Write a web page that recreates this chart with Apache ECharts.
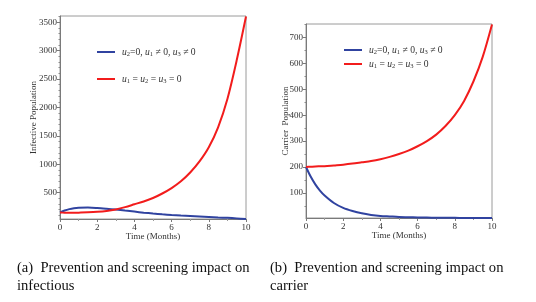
<!DOCTYPE html>
<html><head><meta charset="utf-8">
<script src="https://cdn.jsdelivr.net/npm/echarts@6/dist/echarts.min.js"></script>
<style>html,body{margin:0;padding:0;background:#fff}#c{width:536px;height:302px}</style>
</head><body><div id="c"></div>
<script>
// ---- data ----
const timeA = [0,0.25,0.5,0.75,1,1.5,2,2.5,3,3.5,4,4.5,5,5.5,6,6.5,7,7.5,8,8.5,9,9.5,10];
const infBlue = [150,185,210,226,234,238,230,217,202,184,166,148,132,118,106,96,88,80,72,64,56,47,36];
const infRed  = [150,147,145,146,148,153,162,178,205,245,295,345,405,485,580,700,855,1050,1300,1650,2150,2830,3600];
const timeB = [0,0.25,0.5,0.75,1,1.5,2,2.5,3,3.5,4,4.5,5,5.5,6,6.5,7,7.5,8,8.5,9,9.5,10];
const carBlue = [200,163,133,109,90,61,42,30,21,15,11,9,7,6,5,4.5,4,3.7,3.5,3.3,3.2,3.1,3];
const carRed  = [200,201,202,202.5,203,206,209,213,218,223,230,239,250,263,280,300,325,358,400,455,530,625,750];
const xTicks = [0,2,4,6,8,10];
const infTicks = [500,1000,1500,2000,2500,3000,3500];
const carTicks = [100,200,300,400,500,600,700];
const legendBlue = '{i|u}{s|2}{n|=0, }{i|u}{s|1}{n| \u2260 0, }{i|u}{s|3}{n| \u2260 0}';
const legendRed  = '{i|u}{s|1}{n| = }{i|u}{s|2}{n| = }{i|u}{s|3}{n| = 0}';
const nameBlue = 'blue', nameRed = 'red';

const pairs = (xs, ys) => xs.map((x, i) => [x, ys[i]]);
const minorOf = (step, lo, hi, majors) => { const r=[]; for (let v=step; v<=hi; v+=step) if (v>=lo && !majors.includes(v)) r.push(v); return r; };

const BLUE = '#3043a0', RED = '#f21c1c';
const serif = 'Liberation Serif';
const labelStyle = {fontFamily: serif, fontSize: 9, color: '#333', formatter: v => String(v)};
const rich = {
  i: {fontFamily: serif, fontStyle: 'italic', fontSize: 9.6, color: '#333', lineHeight: 12, verticalAlign: 'middle'},
  n: {fontFamily: serif, fontSize: 9.6, color: '#333', lineHeight: 12, verticalAlign: 'middle'},
  s: {fontFamily: serif, fontSize: 6.5, color: '#333', lineHeight: 12, verticalAlign: 'bottom'}
};

const grids = [
  {left: 60, right: 290, top: 16, bottom: 83, show: true, borderColor: '#9a9a9a', borderWidth: 1},
  {left: 306, right: 44, top: 24, bottom: 84, show: true, borderColor: '#9a9a9a', borderWidth: 1}
];
const axisLine = {show: true, lineStyle: {color: '#7a7a7a', width: 1}};
function xAx(g) {
  return {type: 'value', gridIndex: g, min: 0, max: 10, interval: 2,
    name: 'Time (Months)', nameLocation: 'middle', nameGap: 13, nameMoveOverlap: false,
    nameTextStyle: {fontFamily: serif, fontSize: 9, color: '#333'},
    axisLine, axisTick: {show: true, length: 3, lineStyle: {color: '#7a7a7a'}},
    minorTick: {show: true, splitNumber: 2, length: 2, lineStyle: {color: '#9a9a9a'}},
    axisLabel: Object.assign({margin: 4}, labelStyle), splitLine: {show: false}};
}
function yAx(g, min, max, ticks, name, gap) {
  return {type: 'value', gridIndex: g, min, max,
    name, nameLocation: 'middle', nameGap: gap, nameMoveOverlap: false,
    nameTextStyle: {fontFamily: serif, fontSize: 9, color: '#333'},
    axisLine, axisTick: {show: true, length: 3, customValues: ticks, lineStyle: {color: '#7a7a7a'}},
    axisLabel: Object.assign({margin: 3, customValues: ticks}, labelStyle), splitLine: {show: false}};
}
function yMinor(g, min, max, vals) {
  return {type: 'value', gridIndex: g, min, max, position: 'left',
    axisLine: {show: false}, axisLabel: {show: false}, splitLine: {show: false},
    axisTick: {show: true, length: 1.5, customValues: vals, lineStyle: {color: '#8a8a8a'}}};
}
const infMin = 36, infMax = 3610, carMin = 3, carMax = 752;
function legend(items, left, top, txt) {
  return {data: items, left, top, padding: 0, orient: 'horizontal', itemWidth: 18, itemHeight: 2, icon: 'rect',
    selectedMode: false, formatter: () => txt, textStyle: {rich, padding: [0, 0, 0, 2]}, itemGap: 0};
}
const lineS = (name, xi, yi, data, color) => ({name, type: 'line', xAxisIndex: xi, yAxisIndex: yi, data,
  showSymbol: false, smooth: 0.3, lineStyle: {color, width: 2}, itemStyle: {color}, animation: false});
const capStyle = {fontFamily: serif, fontSize: 14.6, fontWeight: 'normal', color: '#111', lineHeight: 18};

const chart = echarts.init(document.getElementById('c'), null, {renderer: 'canvas'});
chart.setOption({
  backgroundColor: '#fff',
  animation: false,
  grid: grids,
  xAxis: [xAx(0), xAx(1)],
  yAxis: [yAx(0, infMin, infMax, infTicks, 'Infective Population', 22),
          yMinor(0, infMin, infMax, minorOf(100, infMin, infMax, infTicks)),
          yAx(1, carMin, carMax, carTicks, 'Carrier  Population', 16),
          yMinor(1, carMin, carMax, minorOf(50, carMin, carMax, carTicks))],
  legend: [legend(['A-' + nameBlue], 97, 47, legendBlue), legend(['A-' + nameRed], 97, 74, legendRed),
           legend(['B-' + nameBlue], 344, 45, legendBlue), legend(['B-' + nameRed], 344, 59, legendRed)],
  title: [
    {text: '(a)  Prevention and screening impact on\ninfectious', left: 17, top: 259, padding: 0,
     textStyle: capStyle},
    {text: '(b)  Prevention and screening impact on\ncarrier', left: 270, top: 259, padding: 0,
     textStyle: capStyle}
  ],
  series: [
    lineS('A-' + nameBlue, 0, 0, pairs(timeA, infBlue), BLUE),
    lineS('A-' + nameRed, 0, 0, pairs(timeA, infRed), RED),
    lineS('B-' + nameBlue, 1, 2, pairs(timeB, carBlue), BLUE),
    lineS('B-' + nameRed, 1, 2, pairs(timeB, carRed), RED)
  ]
});
</script></body></html>
